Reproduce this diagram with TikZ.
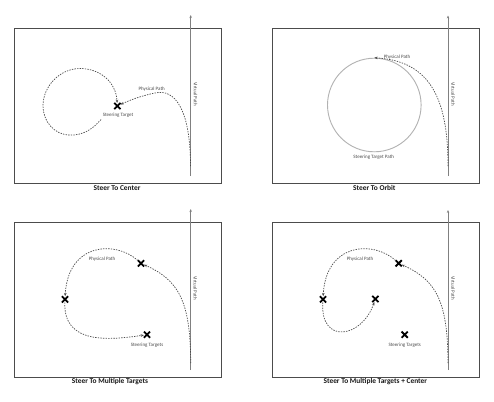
\documentclass[tikz,border=0pt]{standalone}
\usepackage{fontspec}
\setmainfont{Carlito}
\usetikzlibrary{arrows.meta,shapes.misc}
\begin{document}
\begin{tikzpicture}[x=1pt,y=-1pt,
  panel/.style={draw=black!70, line width=0.8pt},
  vpath/.style={draw=black!50, line width=0.8pt, -{Stealth[length=3pt,width=2.4pt]}},
  ppath/.style={draw=black!70, line width=0.7pt, dash pattern=on 1.4pt off 1.2pt, -{Stealth[length=3.2pt,width=2.6pt]}},
  xmark/.style={cross out, draw=black, line width=1.8pt, minimum size=4.4pt, inner sep=0pt},
  small/.style={font=\fontsize{5}{6}\selectfont, text=black!70, inner sep=0.5pt},
  vlabel/.style={small, rotate=-90},
  title/.style={font=\fontsize{7.4}{8}\selectfont\bfseries, text=black!90, inner sep=0.5pt},
  orbit/.style={draw=black!30, line width=0.9pt}
]
\useasboundingbox (0,0) rectangle (494,401);
\fill[white] (0,0) rectangle (494,401);

% ---------- Panel 1: Steer To Center
\node[panel, minimum width=207pt, minimum height=155pt, inner sep=0pt] (box1) at (117.5,105.5) {};
\node[title] (t1) at (117,188) {Steer To Center};
\coordinate (v1b) at (190.7,176);
\coordinate (v1t) at (190.7,15);
\draw[vpath] (v1b) -- (v1t);
\node[vlabel] (vl1) at (195.7,94) {Virtual Path};
\node[xmark] (x1) at (117.3,106) {};
\node[small] (st1) at (118,115.7) {Steering Target};
\node[small] (pp1) at (151.7,89.3) {Physical Path};
\coordinate (p1s) at (190.5,166);
\coordinate (p1m) at (155,93);
\draw[ppath] (p1s) .. controls (190.5,112) and (176,88) .. (p1m) .. controls (140,96) and (128,101) .. (x1);
\coordinate (l1s) at (101,119.5);
\coordinate (l1b) at (70,135);
\coordinate (l1l) at (43,106);
\coordinate (l1t) at (80,68.5);
\draw[ppath] (l1s) .. controls (92,130) and (82,135.5) .. (l1b) .. controls (54,135) and (43,121) .. (l1l) .. controls (43,86) and (60,68.5) .. (l1t) .. controls (100,68.5) and (116,82) .. (x1);

% ---------- Panel 2: Steer To Orbit
\node[panel, minimum width=207pt, minimum height=155pt, inner sep=0pt] (box2) at (375.5,105.5) {};
\node[title] (t2) at (374.3,187.5) {Steer To Orbit};
\coordinate (v2b) at (448,176);
\coordinate (v2t) at (448,15.5);
\draw[vpath] (v2b) -- (v2t);
\node[vlabel] (vl2) at (453,94) {Virtual Path};
\node[circle, orbit, minimum size=93.6pt, inner sep=0pt] (c2) at (374.3,105) {};
\node[small] (st2) at (373.7,156.7) {Steering Target Path};
\node[small] (pp2) at (397,56.7) {Physical Path};
\coordinate (p2s) at (448,166);
\draw[ppath] (p2s) .. controls (448,100) and (431,61) .. (c2.north);

% ---------- Panel 3: Steer To Multiple Targets
\node[panel, minimum width=207pt, minimum height=155pt, inner sep=0pt] (box3) at (117.5,299.5) {};
\node[title] (t3) at (110,381.7) {Steer To Multiple Targets};
\coordinate (v3b) at (190.7,370);
\coordinate (v3t) at (190.7,209);
\draw[vpath] (v3b) -- (v3t);
\node[vlabel] (vl3) at (195.3,288) {Virtual Path};
\node[xmark] (a3) at (141,263.3) {};
\node[xmark] (b3) at (65,299.3) {};
\node[xmark] (c3) at (147,334.7) {};
\node[small] (pp3) at (102,259) {Physical Path};
\node[small] (st3) at (147,345) {Steering Targets};
\coordinate (p3s) at (190.7,363);
\draw[ppath] (p3s) .. controls (190.5,300) and (178,280) .. (a3);
\draw[ppath] (a3) .. controls (115,240) and (68,243) .. (b3);
\draw[ppath] (b3) .. controls (63,345) and (110,340) .. (c3);

% ---------- Panel 4: Steer To Multiple Targets + Center
\node[panel, minimum width=207pt, minimum height=155pt, inner sep=0pt] (box4) at (375.5,299.5) {};
\node[title] (t4) at (375.3,381.7) {Steer To Multiple Targets + Center};
\coordinate (v4b) at (448,370);
\coordinate (v4t) at (448,210);
\draw[vpath] (v4b) -- (v4t);
\node[vlabel] (vl4) at (453,288) {Virtual Path};
\node[xmark] (a4) at (398.7,263.3) {};
\node[xmark] (b4) at (323,299.3) {};
\node[xmark] (d4) at (375.3,299) {};
\node[xmark] (c4) at (404.7,334.7) {};
\node[small] (pp4) at (360,259) {Physical Path};
\node[small] (st4) at (404.7,345) {Steering Targets};
\coordinate (p4s) at (448,363);
\draw[ppath] (p4s) .. controls (447.8,300) and (435.5,280) .. (a4);
\draw[ppath] (a4) .. controls (373,240) and (326,243) .. (b4);
\draw[ppath] (b4) .. controls (320,345) and (362,338) .. (d4);
\end{tikzpicture}
\end{document}
